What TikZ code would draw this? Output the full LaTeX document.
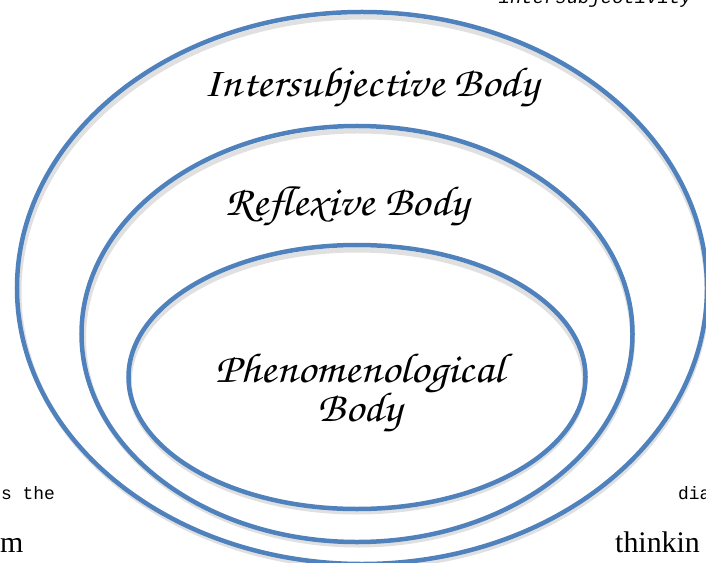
\documentclass[tikz,border=0pt]{standalone}
\usepackage{fontspec}
\newfontfamily\bodyscript[FakeStretch=1.1]{TeX Gyre Chorus}
\newfontfamily\pagemono{Liberation Mono}
\newfontfamily\pageserif{Liberation Serif}
\usetikzlibrary
  {
    shapes.geometric, % ellipse nodes
    positioning,      % place nodes relative to other nodes
  }

\definecolor{bodyblue}{HTML}{4F81BD}

\tikzset{
  layer/.style={ellipse, draw=bodyblue, line width=4.5bp, inner sep=0pt},
  layer shadow/.style={ellipse, draw=black, opacity=.12, line width=5bp, inner sep=0pt},
  layer label/.style={font=\bodyscript\fontsize{42}{32}\selectfont, inner sep=0pt, align=center},
  page text/.style={inner sep=0pt},
}

\begin{document}
\begin{tikzpicture}[x=1bp,y=-1bp]
    \useasboundingbox (0,0) rectangle (706,563);
    \clip (0,0) rectangle (706,563);

    % soft shadows under the rings
    \node [layer shadow, minimum width=688bp, minimum height=550bp] (outer shadow) at (363,292) {};
    \node [layer shadow, minimum width=549bp, minimum height=414bp] (middle shadow) at (358,338) {};
    \node [layer shadow, minimum width=455bp, minimum height=262bp] (inner shadow) at (357,381) {};

    % the three bodies
    \node [layer, minimum width=690bp, minimum height=552bp] (intersubjective) at (362,288) {};
    \node [layer, minimum width=551bp, minimum height=416bp] (reflexive) at (357,334) {};
    \node [layer, minimum width=457bp, minimum height=264bp] (phenomenological) at (357,377) {};

    \node [layer label, anchor=base] (intersubjective label) at (371,97) {Intersubjective Body};
    \node [layer label, anchor=base] (reflexive label) at (347,215) {Reflexive Body};
    \node [layer label] (phenomenological label) at (360,393) {Phenomenological\\Body};

    % surrounding page text, cut by the frame
    \node [page text, anchor=base east, font=\pagemono\itshape\fontsize{19}{22}\selectfont] (caption) at (692,4) {intersubjectivity};
    \node [page text, anchor=base west, font=\pagemono\fontsize{18}{22}\selectfont] (left line) at (1,499) {s the};
    \node [page text, anchor=base west, font=\pagemono\fontsize{18}{22}\selectfont] (right line) at (678,499) {dia};
    \node [page text, anchor=base west, font=\pageserif\fontsize{30}{32}\selectfont] (left word) at (0,552) {m};
    \node [page text, anchor=base west, font=\pageserif\fontsize{30}{32}\selectfont] (right word) at (615,552) {thinkin};
\end{tikzpicture}
\end{document}
